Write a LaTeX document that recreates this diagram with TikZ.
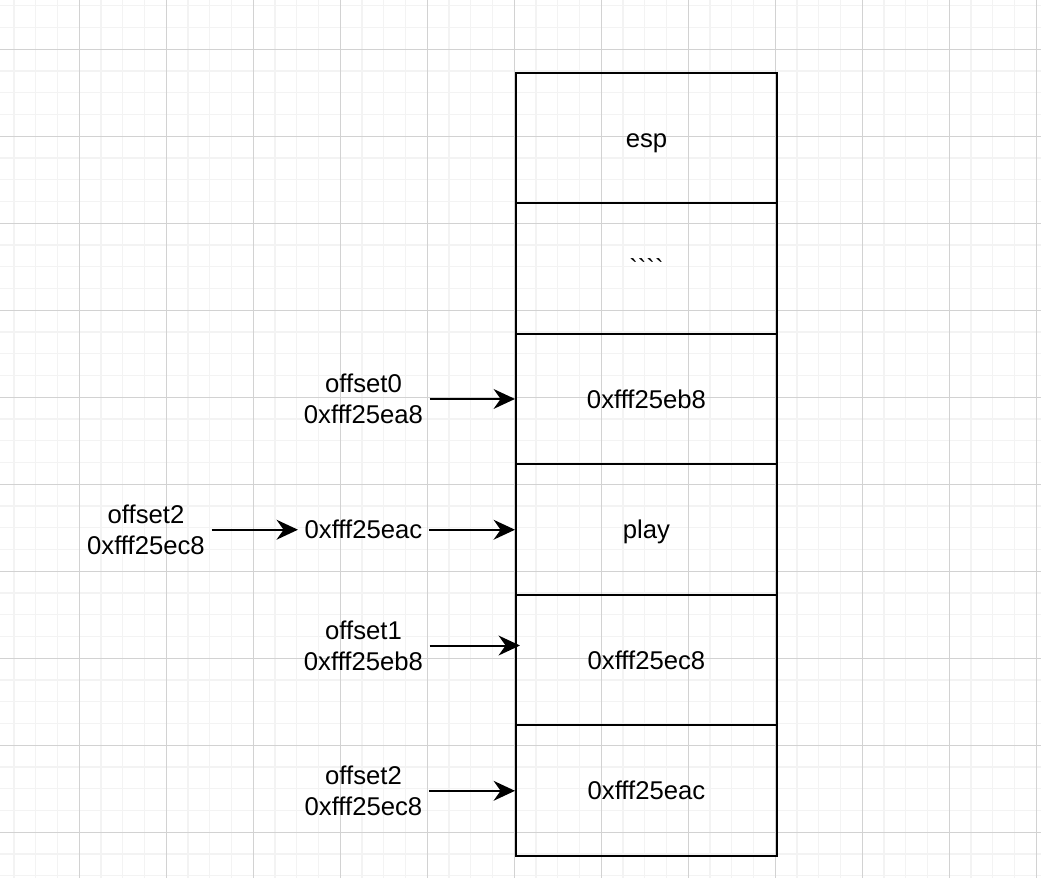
\documentclass[tikz,border=0pt]{standalone}
\usepackage{fontspec}
\setmainfont{Liberation Sans}[Ligatures=TeXOff]
\usepackage{xcolor}
\usetikzlibrary{arrows.meta,positioning}
\definecolor{gminor}{HTML}{F3F3F3}
\definecolor{gmajor}{HTML}{D2D2D2}

\begin{document}
\begin{tikzpicture}[
    >={Stealth[length=7pt, width=6.5pt, inset=2.3pt]},
    cell/.style={rectangle, draw, line width=0.65pt, minimum width=3cm, minimum height=1.5cm, font=\fontsize{8.4}{10.1}\selectfont, execute at begin node=\rule[-2pt]{0pt}{10pt}},
    lbl/.style={align=center, inner sep=2pt, font=\fontsize{8.4}{10.1}\selectfont},
    link/.style={->, line width=0.65pt},
]
\useasboundingbox (0,0) rectangle (11.966,-10.092);

% Background grid
\begin{scope}
    \clip (0,0) rectangle (11.966,-10.092);
    \draw[gminor, line width=0.4pt, shift={(0.911,-0.567)}, step=0.25] (-1,-10) grid (12,1);
    \draw[gmajor, line width=0.3pt, shift={(0.911,-0.567)}, step=1] (-1,-10) grid (12,1);
\end{scope}

% Stack cells
\foreach \txt [count=\i] in {esp,````,0xfff25eb8,play,0xfff25ec8,0xfff25eac} {
    \node[cell] (r\i) at (7.431, {-1.589-1.5*(\i-1)}) {\txt};
}

% Pointers
\node[lbl] (off0) at (4.178, -4.586) {offset0\\0xfff25ea8};
\node[lbl] (eac) at (4.178, -6.089) {0xfff25eac};
\node[lbl] (off2a) at (1.678, -6.089) {offset2\\0xfff25ec8};
\node[lbl] (off1) at (4.178, -7.42) {offset1\\0xfff25eb8};
\node[lbl] (off2b) at (4.178, -9.09) {offset2\\0xfff25ec8};
\coordinate (hit1) at (5.977, -7.42);

\draw[link] (off0.east) -- (off0.east -| r3.west);
\draw[link] (off2a.east) -- (eac.west);
\draw[link] (eac.east) -- (eac.east -| r4.west);
\draw[link] (off1.east) -- (hit1);
\draw[link] (off2b.east) -- (off2b.east -| r6.west);

\end{tikzpicture}
\end{document}
